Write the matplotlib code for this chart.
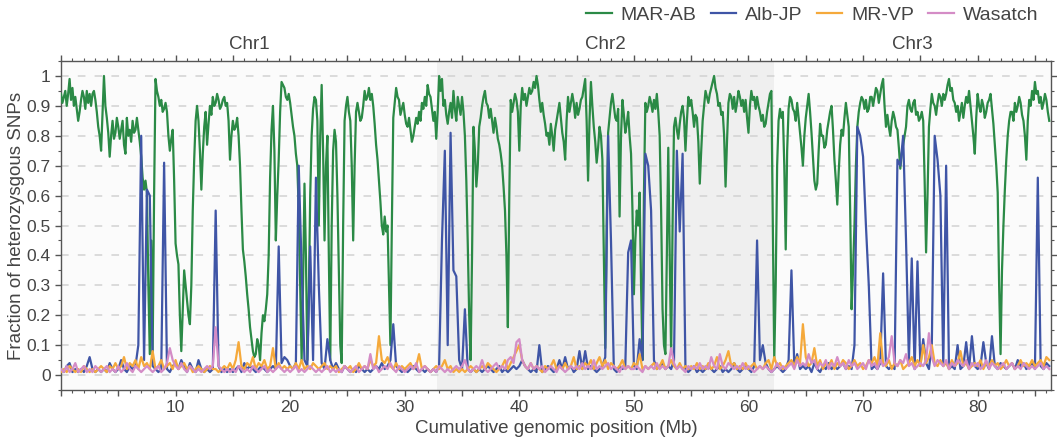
import numpy as np
import matplotlib
matplotlib.use("Agg")
import matplotlib.pyplot as plt
from matplotlib.ticker import MultipleLocator, FuncFormatter

plt.rcParams['font.family'] = ['Liberation Sans', 'DejaVu Sans']

# MAR-AB is binned every 0.125 Mb, the other three every 0.25 Mb
mar_step = 0.125
step = 0.25

mar_ab = [
    0.94, 0.91, 0.93, 0.95, 0.90, 0.94, 0.99, 0.92, 0.96, 0.90, 0.93, 0.89, 0.85, 0.88, 0.92, 0.95, 0.93, 0.89, 0.95, 0.91,
    0.94, 0.90, 0.94, 0.95, 0.92, 0.88, 0.83, 0.80, 0.75, 0.88, 1.00, 0.90, 0.86, 0.81, 0.73, 0.80, 0.85, 0.79, 0.81, 0.86,
    0.83, 0.79, 0.82, 0.85, 0.77, 0.74, 0.86, 0.80, 0.82, 0.78, 0.85, 0.81, 0.82, 0.86, 0.82, 0.78, 0.73, 0.66, 0.62, 0.65,
    0.61, 0.30, 0.07, 0.45, 0.08, 0.60, 0.99, 0.95, 0.93, 0.90, 0.92, 0.88, 0.89, 0.91, 0.88, 0.80, 0.75, 0.79, 0.82, 0.65,
    0.44, 0.40, 0.37, 0.20, 0.08, 0.22, 0.35, 0.30, 0.25, 0.20, 0.17, 0.30, 0.55, 0.72, 0.85, 0.90, 0.85, 0.75, 0.62, 0.74,
    0.83, 0.88, 0.77, 0.84, 0.90, 0.87, 0.93, 0.90, 0.91, 0.94, 0.92, 0.89, 0.90, 0.92, 0.93, 0.90, 0.91, 0.85, 0.72, 0.80,
    0.85, 0.82, 0.83, 0.86, 0.80, 0.70, 0.55, 0.42, 0.38, 0.33, 0.27, 0.22, 0.16, 0.12, 0.08, 0.06, 0.07, 0.12, 0.10, 0.05,
    0.14, 0.20, 0.18, 0.22, 0.27, 0.40, 0.66, 0.82, 0.90, 0.75, 0.45, 0.60, 0.72, 0.88, 0.98, 0.97, 0.96, 0.93, 0.92, 0.94,
    0.91, 0.87, 0.83, 0.80, 0.74, 0.70, 0.55, 0.30, 0.05, 0.30, 0.64, 0.40, 0.05, 0.25, 0.60, 0.80, 0.89, 0.93, 0.92, 0.85,
    0.50, 0.80, 0.97, 0.75, 0.45, 0.70, 0.80, 0.40, 0.05, 0.50, 0.75, 0.82, 0.78, 0.60, 0.35, 0.10, 0.04, 0.50, 0.85, 0.90,
    0.93, 0.88, 0.85, 0.70, 0.45, 0.70, 0.88, 0.91, 0.88, 0.85, 0.86, 0.90, 0.95, 0.92, 0.93, 0.96, 0.92, 0.94, 0.90, 0.84,
    0.77, 0.72, 0.65, 0.58, 0.50, 0.47, 0.53, 0.48, 0.50, 0.30, 0.10, 0.50, 0.86, 0.91, 0.96, 0.93, 0.92, 0.87, 0.89, 0.91,
    0.87, 0.84, 0.83, 0.86, 0.82, 0.78, 0.80, 0.83, 0.86, 0.84, 0.88, 0.85, 0.91, 0.89, 0.93, 0.90, 0.97, 0.94, 0.93, 0.89,
    0.85, 0.88, 0.79, 0.88, 1.00, 0.95, 0.99, 0.90, 0.92, 0.87, 0.84, 0.88, 0.91, 0.86, 0.95, 0.89, 0.85, 0.93, 0.90, 0.87,
    0.93, 0.88, 0.80, 0.65, 0.44, 0.20, 0.05, 0.40, 0.83, 0.75, 0.63, 0.70, 0.83, 0.86, 0.90, 0.93, 0.95, 0.91, 0.90, 0.86,
    0.89, 0.85, 0.81, 0.86, 0.83, 0.79, 0.77, 0.74, 0.70, 0.63, 0.55, 0.40, 0.16, 0.60, 0.92, 0.88, 0.91, 0.94, 0.92, 0.88,
    0.75, 0.90, 0.96, 0.92, 0.94, 0.90, 0.93, 0.96, 0.94, 0.95, 0.98, 0.96, 1.00, 0.97, 0.92, 0.88, 0.91, 0.87, 0.84, 0.80,
    0.81, 0.77, 0.84, 0.80, 0.75, 0.82, 0.85, 0.88, 0.91, 0.86, 0.81, 0.78, 0.72, 0.85, 0.93, 0.88, 0.91, 0.94, 0.91, 0.86,
    0.91, 0.87, 0.89, 0.92, 0.93, 0.96, 0.99, 0.85, 0.65, 0.85, 0.98, 0.90, 0.83, 0.78, 0.71, 0.76, 0.83, 0.80, 0.72, 0.40,
    0.09, 0.50, 0.81, 0.86, 0.91, 0.94, 0.90, 0.86, 0.85, 0.89, 0.53, 0.80, 0.92, 0.87, 0.81, 0.84, 0.88, 0.80, 0.74, 0.55,
    0.27, 0.45, 0.55, 0.50, 0.61, 0.30, 0.05, 0.60, 0.91, 0.88, 0.90, 0.93, 0.91, 0.88, 0.92, 0.89, 0.94, 0.88, 0.80, 0.55,
    0.22, 0.10, 0.07, 0.40, 0.76, 0.40, 0.07, 0.50, 0.83, 0.86, 0.82, 0.79, 0.84, 0.88, 0.90, 0.86, 0.75, 0.85, 0.93, 0.90,
    0.92, 0.88, 0.83, 0.87, 0.86, 0.78, 0.64, 0.75, 0.85, 0.90, 0.95, 0.93, 0.91, 0.94, 0.96, 0.98, 1.00, 0.96, 0.94, 0.90,
    0.91, 0.87, 0.88, 0.80, 0.63, 0.78, 0.91, 0.94, 0.93, 0.89, 0.93, 0.88, 0.91, 0.95, 0.93, 0.90, 0.92, 0.88, 0.92, 0.86,
    0.81, 0.90, 0.95, 0.92, 0.93, 0.89, 0.93, 0.90, 0.88, 0.85, 0.87, 0.83, 0.84, 0.88, 0.91, 0.94, 0.95, 0.50, 0.05, 0.30,
    0.70, 0.85, 0.89, 0.86, 0.88, 0.70, 0.42, 0.75, 0.89, 0.93, 0.92, 0.89, 0.88, 0.85, 0.91, 0.86, 0.81, 0.76, 0.70, 0.80,
    0.86, 0.90, 0.94, 0.88, 0.81, 0.73, 0.65, 0.62, 0.64, 0.75, 0.84, 0.80, 0.80, 0.76, 0.77, 0.82, 0.85, 0.88, 0.90, 0.82,
    0.72, 0.65, 0.57, 0.68, 0.77, 0.82, 0.80, 0.86, 0.91, 0.87, 0.83, 0.55, 0.22, 0.35, 0.50, 0.70, 0.83, 0.88, 0.91, 0.93,
    0.92, 0.89, 0.92, 0.88, 0.89, 0.93, 0.93, 0.90, 0.93, 0.96, 0.95, 0.91, 0.94, 0.97, 0.99, 0.90, 0.83, 0.87, 0.83, 0.80,
    0.85, 0.88, 0.86, 0.83, 0.82, 0.76, 0.69, 0.74, 0.77, 0.80, 0.83, 0.90, 0.92, 0.89, 0.88, 0.91, 0.92, 0.87, 0.88, 0.85,
    0.86, 0.88, 0.85, 0.65, 0.41, 0.60, 0.83, 0.89, 0.94, 0.91, 0.90, 0.87, 0.91, 0.94, 0.93, 0.90, 0.94, 0.92, 0.94, 0.97,
    0.99, 0.95, 0.96, 0.92, 0.91, 0.88, 0.90, 0.85, 0.88, 0.91, 0.86, 0.90, 0.93, 0.91, 0.95, 0.90, 0.85, 0.80, 0.74, 0.86,
    0.94, 0.90, 0.88, 0.92, 0.90, 0.86, 0.88, 0.91, 0.92, 0.94, 0.89, 0.84, 0.77, 0.70, 0.61, 0.30, 0.07, 0.35, 0.50, 0.62,
    0.72, 0.80, 0.85, 0.88, 0.88, 0.85, 0.91, 0.88, 0.90, 0.93, 0.91, 0.87, 0.85, 0.80, 0.72, 0.85, 0.92, 0.90, 0.95, 0.92,
    0.98, 0.94, 0.95, 0.91, 0.93, 0.89, 0.91, 0.94, 0.92, 0.88, 0.85,
]

alb_jp = [
    0.02, 0.01, 0.03, 0.04, 0.01, 0.02, 0.01, 0.02, 0.01, 0.03, 0.06, 0.02, 0.01, 0.02, 0.01, 0.02, 0.01, 0.04, 0.02, 0.01,
    0.02, 0.05, 0.02, 0.01, 0.03, 0.02, 0.03, 0.10, 0.80, 0.05, 0.62, 0.60, 0.03, 0.02, 0.01, 0.02, 0.71, 0.02, 0.01, 0.03,
    0.04, 0.02, 0.05, 0.03, 0.01, 0.04, 0.02, 0.01, 0.05, 0.02, 0.01, 0.02, 0.01, 0.02, 0.55, 0.03, 0.01, 0.02, 0.01, 0.02,
    0.01, 0.02, 0.03, 0.01, 0.04, 0.02, 0.03, 0.02, 0.01, 0.02, 0.03, 0.02, 0.01, 0.02, 0.03, 0.02, 0.43, 0.04, 0.06, 0.05,
    0.03, 0.02, 0.04, 0.70, 0.36, 0.05, 0.03, 0.43, 0.05, 0.66, 0.30, 0.04, 0.02, 0.12, 0.05, 0.02, 0.04, 0.02, 0.01, 0.03,
    0.02, 0.01, 0.02, 0.01, 0.03, 0.02, 0.01, 0.02, 0.01, 0.02, 0.03, 0.02, 0.04, 0.02, 0.03, 0.05, 0.17, 0.03, 0.02, 0.01,
    0.02, 0.01, 0.02, 0.03, 0.02, 0.01, 0.02, 0.01, 0.02, 0.01, 0.02, 0.01, 0.03, 0.45, 0.75, 0.10, 0.81, 0.35, 0.33, 0.05,
    0.02, 0.22, 0.02, 0.01, 0.02, 0.01, 0.02, 0.01, 0.02, 0.03, 0.02, 0.01, 0.02, 0.03, 0.01, 0.02, 0.01, 0.02, 0.03, 0.02,
    0.03, 0.05, 0.03, 0.02, 0.01, 0.02, 0.01, 0.10, 0.01, 0.02, 0.03, 0.02, 0.01, 0.02, 0.05, 0.02, 0.06, 0.02, 0.03, 0.01,
    0.02, 0.08, 0.02, 0.08, 0.02, 0.03, 0.02, 0.01, 0.02, 0.03, 0.06, 0.80, 0.45, 0.02, 0.01, 0.03, 0.02, 0.03, 0.41, 0.45,
    0.03, 0.02, 0.12, 0.05, 0.74, 0.70, 0.55, 0.05, 0.02, 0.03, 0.04, 0.02, 0.03, 0.02, 0.05, 0.75, 0.48, 0.74, 0.02, 0.01,
    0.02, 0.03, 0.01, 0.02, 0.01, 0.02, 0.03, 0.02, 0.01, 0.02, 0.03, 0.01, 0.02, 0.01, 0.02, 0.04, 0.02, 0.01, 0.02, 0.03,
    0.02, 0.01, 0.03, 0.45, 0.05, 0.10, 0.04, 0.02, 0.01, 0.02, 0.03, 0.02, 0.01, 0.02, 0.05, 0.35, 0.03, 0.07, 0.02, 0.03,
    0.02, 0.03, 0.01, 0.04, 0.02, 0.01, 0.03, 0.02, 0.04, 0.02, 0.03, 0.02, 0.03, 0.04, 0.02, 0.03, 0.02, 0.10, 0.83, 0.80,
    0.73, 0.50, 0.30, 0.02, 0.03, 0.02, 0.04, 0.34, 0.03, 0.02, 0.03, 0.02, 0.72, 0.70, 0.80, 0.45, 0.05, 0.39, 0.02, 0.38,
    0.03, 0.12, 0.04, 0.02, 0.10, 0.80, 0.72, 0.60, 0.03, 0.70, 0.02, 0.03, 0.02, 0.10, 0.02, 0.03, 0.11, 0.02, 0.13, 0.03,
    0.02, 0.03, 0.11, 0.04, 0.02, 0.13, 0.03, 0.02, 0.04, 0.03, 0.02, 0.03, 0.04, 0.02, 0.05, 0.03, 0.04, 0.02, 0.03, 0.04,
    0.02, 0.66, 0.03, 0.02, 0.04, 0.03,
]

mr_vp = [
    0.01, 0.02, 0.01, 0.03, 0.02, 0.01, 0.02, 0.01, 0.03, 0.02, 0.01, 0.02, 0.01, 0.02, 0.03, 0.02, 0.01, 0.03, 0.02, 0.04,
    0.02, 0.03, 0.06, 0.02, 0.04, 0.03, 0.05, 0.02, 0.06, 0.03, 0.04, 0.02, 0.08, 0.02, 0.03, 0.05, 0.02, 0.03, 0.04, 0.02,
    0.05, 0.02, 0.03, 0.04, 0.02, 0.03, 0.01, 0.02, 0.03, 0.02, 0.01, 0.02, 0.03, 0.02, 0.02, 0.01, 0.02, 0.03, 0.02, 0.04,
    0.02, 0.05, 0.11, 0.03, 0.02, 0.04, 0.03, 0.06, 0.02, 0.04, 0.03, 0.05, 0.02, 0.03, 0.09, 0.02, 0.04, 0.02, 0.03, 0.02,
    0.03, 0.02, 0.04, 0.02, 0.05, 0.02, 0.03, 0.02, 0.04, 0.03, 0.02, 0.03, 0.04, 0.02, 0.03, 0.02, 0.03, 0.01, 0.02, 0.03,
    0.02, 0.03, 0.01, 0.02, 0.04, 0.02, 0.03, 0.02, 0.05, 0.03, 0.04, 0.13, 0.05, 0.04, 0.06, 0.03, 0.02, 0.04, 0.02, 0.03,
    0.02, 0.03, 0.04, 0.02, 0.03, 0.07, 0.02, 0.03, 0.02, 0.01, 0.02, 0.03, 0.02, 0.03, 0.05, 0.02, 0.03, 0.01, 0.02, 0.01,
    0.02, 0.01, 0.02, 0.03, 0.02, 0.01, 0.02, 0.03, 0.02, 0.04, 0.03, 0.02, 0.01, 0.02, 0.03, 0.05, 0.02, 0.04, 0.06, 0.08,
    0.10, 0.05, 0.03, 0.02, 0.04, 0.02, 0.03, 0.02, 0.01, 0.03, 0.02, 0.03, 0.05, 0.02, 0.03, 0.02, 0.04, 0.02, 0.03, 0.06,
    0.02, 0.03, 0.02, 0.04, 0.03, 0.05, 0.02, 0.04, 0.06, 0.03, 0.05, 0.02, 0.04, 0.03, 0.02, 0.03, 0.05, 0.02, 0.03, 0.02,
    0.04, 0.03, 0.07, 0.02, 0.03, 0.02, 0.03, 0.04, 0.02, 0.03, 0.05, 0.02, 0.03, 0.05, 0.03, 0.02, 0.04, 0.02, 0.03, 0.02,
    0.03, 0.02, 0.04, 0.02, 0.03, 0.02, 0.04, 0.02, 0.03, 0.06, 0.02, 0.03, 0.05, 0.08, 0.03, 0.04, 0.02, 0.03, 0.02, 0.04,
    0.02, 0.03, 0.04, 0.02, 0.03, 0.02, 0.04, 0.05, 0.02, 0.06, 0.03, 0.04, 0.02, 0.03, 0.04, 0.05, 0.03, 0.06, 0.04, 0.17,
    0.06, 0.03, 0.04, 0.09, 0.03, 0.05, 0.02, 0.04, 0.03, 0.05, 0.02, 0.04, 0.03, 0.05, 0.04, 0.02, 0.03, 0.05, 0.03, 0.04,
    0.02, 0.03, 0.05, 0.04, 0.06, 0.03, 0.14, 0.04, 0.03, 0.05, 0.02, 0.04, 0.03, 0.05, 0.02, 0.03, 0.04, 0.06, 0.03, 0.05,
    0.03, 0.10, 0.04, 0.06, 0.10, 0.04, 0.03, 0.05, 0.03, 0.04, 0.02, 0.05, 0.03, 0.04, 0.08, 0.03, 0.04, 0.02, 0.03, 0.04,
    0.03, 0.05, 0.02, 0.04, 0.03, 0.05, 0.03, 0.04, 0.02, 0.03, 0.05, 0.03, 0.04, 0.02, 0.03, 0.05, 0.03, 0.04, 0.03, 0.05,
    0.03, 0.04, 0.05, 0.03, 0.06, 0.05,
]

wasatch = [
    0.02, 0.01, 0.03, 0.01, 0.02, 0.04, 0.01, 0.02, 0.03, 0.01, 0.02, 0.01, 0.03, 0.02, 0.01, 0.02, 0.03, 0.01, 0.02, 0.01,
    0.03, 0.01, 0.02, 0.04, 0.02, 0.01, 0.03, 0.02, 0.01, 0.02, 0.03, 0.02, 0.01, 0.02, 0.03, 0.01, 0.02, 0.04, 0.09, 0.05,
    0.03, 0.02, 0.04, 0.02, 0.01, 0.03, 0.02, 0.01, 0.02, 0.01, 0.02, 0.03, 0.02, 0.03, 0.16, 0.03, 0.02, 0.01, 0.02, 0.01,
    0.02, 0.01, 0.03, 0.02, 0.01, 0.02, 0.01, 0.03, 0.02, 0.01, 0.02, 0.03, 0.01, 0.02, 0.01, 0.02, 0.03, 0.02, 0.01, 0.02,
    0.01, 0.02, 0.03, 0.01, 0.02, 0.01, 0.02, 0.03, 0.02, 0.01, 0.02, 0.01, 0.02, 0.03, 0.01, 0.02, 0.01, 0.02, 0.01, 0.03,
    0.02, 0.01, 0.02, 0.03, 0.01, 0.02, 0.03, 0.02, 0.07, 0.02, 0.03, 0.01, 0.02, 0.03, 0.02, 0.04, 0.02, 0.01, 0.03, 0.02,
    0.01, 0.02, 0.03, 0.02, 0.04, 0.01, 0.02, 0.03, 0.02, 0.01, 0.02, 0.01, 0.03, 0.02, 0.01, 0.02, 0.01, 0.02, 0.03, 0.02,
    0.03, 0.05, 0.02, 0.01, 0.02, 0.03, 0.02, 0.05, 0.02, 0.01, 0.02, 0.03, 0.04, 0.02, 0.03, 0.02, 0.05, 0.06, 0.04, 0.11,
    0.12, 0.05, 0.03, 0.02, 0.04, 0.02, 0.03, 0.02, 0.03, 0.01, 0.02, 0.03, 0.02, 0.01, 0.03, 0.02, 0.01, 0.02, 0.03, 0.02,
    0.03, 0.02, 0.04, 0.02, 0.03, 0.02, 0.05, 0.02, 0.03, 0.02, 0.03, 0.04, 0.02, 0.03, 0.02, 0.01, 0.03, 0.02, 0.03, 0.02,
    0.02, 0.03, 0.02, 0.01, 0.03, 0.02, 0.03, 0.02, 0.04, 0.02, 0.03, 0.02, 0.03, 0.09, 0.04, 0.02, 0.03, 0.02, 0.01, 0.03,
    0.02, 0.03, 0.02, 0.04, 0.02, 0.03, 0.02, 0.06, 0.03, 0.02, 0.07, 0.03, 0.02, 0.04, 0.03, 0.02, 0.03, 0.02, 0.04, 0.02,
    0.03, 0.02, 0.01, 0.02, 0.03, 0.02, 0.03, 0.02, 0.01, 0.02, 0.04, 0.02, 0.03, 0.02, 0.03, 0.04, 0.02, 0.05, 0.03, 0.04,
    0.03, 0.07, 0.04, 0.05, 0.02, 0.04, 0.03, 0.05, 0.02, 0.04, 0.03, 0.06, 0.03, 0.04, 0.02, 0.05, 0.03, 0.04, 0.02, 0.03,
    0.04, 0.02, 0.05, 0.03, 0.04, 0.02, 0.05, 0.03, 0.04, 0.06, 0.13, 0.04, 0.03, 0.05, 0.04, 0.07, 0.03, 0.04, 0.02, 0.03,
    0.04, 0.03, 0.05, 0.14, 0.06, 0.03, 0.05, 0.04, 0.03, 0.05, 0.02, 0.04, 0.03, 0.05, 0.04, 0.03, 0.05, 0.02, 0.04, 0.03,
    0.04, 0.02, 0.03, 0.05, 0.02, 0.04, 0.03, 0.02, 0.03, 0.04, 0.02, 0.03, 0.04, 0.02, 0.03, 0.02, 0.04, 0.03, 0.02, 0.03,
    0.02, 0.03, 0.04, 0.02, 0.03, 0.02,
]

chrom_names = ['Chr1', 'Chr2', 'Chr3']
chrom_bounds = [0.0, 32.8, 62.2, 86.4]

series = [
    ('MAR-AB', mar_ab, mar_step, '#2b8a46'),
    ('Alb-JP', alb_jp, step, '#3f55a6'),
    ('MR-VP', mr_vp, step, '#f5a93b'),
    ('Wasatch', wasatch, step, '#d48cc6'),
]

txt = '#444444'

fig = plt.figure(figsize=(10.57, 4.38), dpi=100)
ax = fig.add_axes([0.0577, 0.1096, 0.9366, 0.7511])
ax.set_facecolor('#fbfbfb')

# shade the middle chromosome
ax.axvspan(chrom_bounds[1], chrom_bounds[2], color='#efefef', zorder=0, lw=0)

for yv in np.arange(0, 1.01, 0.1):
    ax.axhline(yv, color='#d2d2d2', lw=1.1, ls=(0, (5, 6)), zorder=1)

for name, vals, dx, col in series:
    pos = np.arange(len(vals)) * dx
    ax.plot(pos, vals, color=col, lw=1.6, label=name, zorder=3)

for i, nm in enumerate(chrom_names):
    mid = (chrom_bounds[i] + chrom_bounds[i + 1]) / 2
    ax.text(mid, 1.025, nm, transform=ax.get_xaxis_transform(),
            ha='center', va='bottom', fontsize=13.5, color=txt)

ax.set_xlim(chrom_bounds[0], chrom_bounds[-1])
ax.set_ylim(-0.05, 1.05)

ax.xaxis.set_major_locator(MultipleLocator(5))
ax.xaxis.set_minor_locator(MultipleLocator(1))
ax.xaxis.set_major_formatter(FuncFormatter(lambda v, p: '%d' % v if v % 10 == 0 and v > 0 else ''))
ax.yaxis.set_major_locator(MultipleLocator(0.1))
ax.yaxis.set_minor_locator(MultipleLocator(0.05))
ax.yaxis.set_major_formatter(FuncFormatter(lambda v, p: '%g' % round(v, 1) if v > -0.01 else ''))

ax.tick_params(which='both', direction='out', top=True, right=True,
               colors='#555555', labelcolor=txt, labelsize=12.5)
ax.tick_params(which='major', length=4, width=1)
ax.tick_params(which='minor', length=2.5, width=0.8)
for s in ax.spines.values():
    s.set_color('#555555')
    s.set_linewidth(1)

ax.set_xlabel('Cumulative genomic position (Mb)', fontsize=13.5, color=txt, labelpad=3)
ax.set_ylabel('Fraction of heterozysgous SNPs', fontsize=13.5, color=txt, labelpad=1)

fig.legend(loc='upper right', bbox_to_anchor=(0.982, 0.985), ncol=4, frameon=False,
           fontsize=14, handlelength=1.3, columnspacing=0.75, handletextpad=0.45,
           borderpad=0, borderaxespad=0, labelcolor=txt)

fig.savefig('out.png', dpi=100)
